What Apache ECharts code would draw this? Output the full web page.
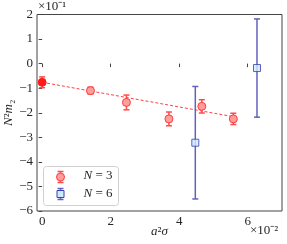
<!DOCTYPE html>
<html><head><meta charset="utf-8">
<script src="https://cdn.jsdelivr.net/npm/echarts@6/dist/echarts.min.js"></script>
<style>html,body{margin:0;padding:0;background:#fff}#c{width:287px;height:244px}</style>
</head><body><div id="c"></div>
<script>
// values in units of 1e-2 (x) and 1e-1 (y)
var xN3 = [0, 1.41, 2.46, 3.70, 4.66, 5.58];
var yN3 = [-0.76, -1.10, -1.58, -2.25, -1.74, -2.25];
var eN3 = [0.22, 0.14, 0.30, 0.28, 0.27, 0.23];
var xN6 = [4.47, 6.27];
var yN6 = [-3.22, -0.18];
var eN6 = [2.29, 2.00];
var fitX = [0, 5.62];
var fitY = [-0.76, -2.17];
var xTicks = [0, 2, 4, 6];
var yTicks = [-6, -5, -4, -3, -2, -1, 0, 1, 2];

var FONT = 'Liberation Serif';
var TXT = '#262626';
var RED = '#ff3b3b', PINK = '#ff9c9c', BLUE = '#3c3cb4', BLUEBAR = '#6262bd', CYAN = '#c9ecff';

function zip3(a, b, c) { return a.map(function (v, i) { return [v, b[i], c[i]]; }); }
function fmt(v) { return String(v).replace('-', '\u2212'); }

function errRender(color) {
  return function (params, api) {
    var x = api.value(0), y = api.value(1), e = api.value(2);
    var t = api.coord([x, y + e]), b = api.coord([x, y - e]);
    var w = 3;
    var st = { stroke: color, lineWidth: 1.5 };
    return { type: 'group', children: [
      { type: 'line', shape: { x1: t[0], y1: t[1], x2: b[0], y2: b[1] }, style: st },
      { type: 'line', shape: { x1: t[0] - w, y1: t[1], x2: t[0] + w, y2: t[1] }, style: st },
      { type: 'line', shape: { x1: b[0] - w, y1: b[1], x2: b[0] + w, y2: b[1] }, style: st }
    ]};
  };
}

var n3pts = xN3.map(function (x, i) {
  var d = { value: [x, yN3[i]] };
  if (i === 0) d.itemStyle = { color: '#ff1a1a', borderColor: '#ff1a1a' };
  return d;
});

var richN = { i: { fontFamily: FONT, fontStyle: 'italic', fontSize: 13, color: TXT }, n: { fontFamily: FONT, fontSize: 13, color: TXT } };

var chart = echarts.init(document.getElementById('c'), null, { renderer: 'canvas' });
chart.setOption({
  animation: false,
  grid: { left: 37, right: 5, top: 14.5, bottom: 33, containLabel: false, outerBoundsMode: 'none',
          show: true, borderColor: '#444', borderWidth: 1, backgroundColor: 'transparent' },
  xAxis: {
    type: 'value', min: -0.15, max: 7,
    axisLine: { show: false },
    splitLine: { show: false },
    axisTick: { show: true, inside: false, length: 3.5, lineStyle: { color: '#444' }, customValues: xTicks },
    axisLabel: { customValues: xTicks, fontFamily: FONT, fontSize: 13, color: TXT, margin: 4, formatter: fmt },
    name: '{i|a}{n|\u00b2}{i|\u03c3}', nameLocation: 'middle', nameGap: 14, nameMoveOverlap: false,
    nameTextStyle: { rich: richN, verticalAlign: 'top' }
  },
  yAxis: {
    type: 'value', min: -6, max: 2, interval: 1,
    axisLine: { show: false },
    splitLine: { show: false },
    axisTick: { show: true, inside: false, length: 3.5, lineStyle: { color: '#444' } },
    axisLabel: { fontFamily: FONT, fontSize: 13, color: TXT, margin: 4, formatter: fmt },
    name: '{i|N}{n|\u00b2}{i|m}{n|\u2082}', nameLocation: 'middle', nameGap: 22, nameRotate: 90, nameMoveOverlap: false,
    nameTextStyle: { rich: richN }
  },
  series: [
    { type: 'line', data: fitX.map(function (x, i) { return [x, fitY[i]]; }), symbol: 'none',
      lineStyle: { color: '#ff4040', width: 1, type: [3, 2] }, z: 1 },
    { type: 'custom', data: zip3(xN3, yN3, eN3), renderItem: errRender('#ff4a4a'), z: 2 },
    { type: 'scatter', data: n3pts, symbol: 'circle', symbolSize: 8,
      itemStyle: { color: PINK, borderColor: RED, borderWidth: 1, opacity: 1 }, z: 3 },
    { type: 'custom', data: zip3(xN6, yN6, eN6), renderItem: errRender(BLUEBAR), z: 2 },
    { type: 'scatter', data: xN6.map(function (x, i) { return [x, yN6[i]]; }), symbol: 'rect', symbolSize: 7,
      itemStyle: { color: CYAN, borderColor: BLUE, borderWidth: 1 }, z: 3 }
  ],
  graphic: [
    { type: 'text', left: 38, top: 0, style: { text: '\u00d710\u207b\u00b9', font: '13px "' + FONT + '"', fill: TXT } },
    { type: 'text', left: 250, top: 224, style: { text: '\u00d710\u207b\u00b2', font: '13px "' + FONT + '"', fill: TXT } },
    { type: 'group', left: 43, top: 166, children: [
      { type: 'rect', shape: { x: 0, y: 0, width: 75, height: 39, r: 3 }, style: { fill: '#fff', stroke: '#d0d0d0', lineWidth: 1 } },
      { type: 'line', shape: { x1: 17, y1: 5, x2: 17, y2: 16 }, style: { stroke: '#ff4a4a', lineWidth: 1.5 } },
      { type: 'line', shape: { x1: 14, y1: 5, x2: 20, y2: 5 }, style: { stroke: '#ff4a4a', lineWidth: 1.5 } },
      { type: 'line', shape: { x1: 14, y1: 16, x2: 20, y2: 16 }, style: { stroke: '#ff4a4a', lineWidth: 1.5 } },
      { type: 'circle', shape: { cx: 17, cy: 10.5, r: 4 }, style: { fill: PINK, stroke: RED, lineWidth: 1 } },
      { type: 'line', shape: { x1: 17, y1: 22, x2: 17, y2: 33 }, style: { stroke: BLUEBAR, lineWidth: 1.5 } },
      { type: 'line', shape: { x1: 14, y1: 22, x2: 20, y2: 22 }, style: { stroke: BLUEBAR, lineWidth: 1.5 } },
      { type: 'line', shape: { x1: 14, y1: 33, x2: 20, y2: 33 }, style: { stroke: BLUEBAR, lineWidth: 1.5 } },
      { type: 'rect', shape: { x: 13.5, y: 24, width: 7, height: 7 }, style: { fill: CYAN, stroke: BLUE, lineWidth: 1 } },
      { type: 'text', x: 40, y: 3, style: { rich: { i: { fontFamily: FONT, fontStyle: 'italic', fontSize: 13, fill: TXT }, n: { fontFamily: FONT, fontSize: 13, fill: TXT } }, text: '{i|N}{n| = 3}' } },
      { type: 'text', x: 40, y: 21, style: { rich: { i: { fontFamily: FONT, fontStyle: 'italic', fontSize: 13, fill: TXT }, n: { fontFamily: FONT, fontSize: 13, fill: TXT } }, text: '{i|N}{n| = 6}' } }
    ]}
  ]
});
</script>
</body></html>
